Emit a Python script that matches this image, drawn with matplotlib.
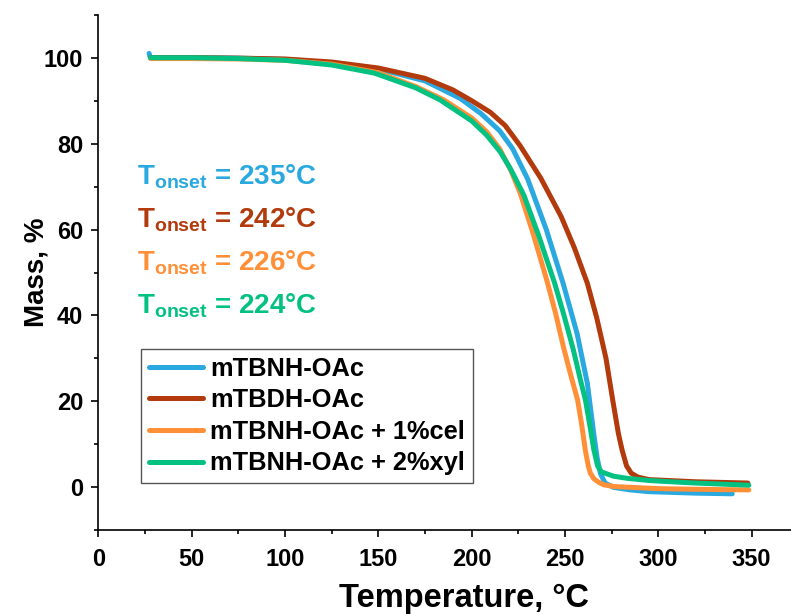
import matplotlib
matplotlib.use("Agg")
import matplotlib.pyplot as plt
from matplotlib.ticker import MultipleLocator

plt.rcParams["font.family"] = "Liberation Sans"
plt.rcParams["font.weight"] = "bold"
plt.rcParams["mathtext.fontset"] = "custom"
plt.rcParams["mathtext.rm"] = "Liberation Sans:bold"
plt.rcParams["mathtext.bf"] = "Liberation Sans:bold"

# TGA curves (temperature in °C, mass in %)
t_nh = [27.2, 27.6, 28.5, 50, 75, 100, 125, 150, 175, 194, 205, 215, 222, 230, 240, 249,
        256.5, 262, 265.4, 267.2, 269, 271.5, 276, 285, 295, 320, 339.6]
m_nh = [101.0, 100.3, 100.0, 100.0, 99.9, 99.6, 98.8, 97.4, 94.6, 90.5, 87.0, 83.0, 78.8, 71.8, 60.0, 47.5,
        35.8, 24.2, 12.6, 7.0, 3.2, 1.0, 0.0, -0.6, -1.0, -1.35, -1.5]

t_dh = [28, 50, 75, 100, 125, 150, 175, 190, 200, 210, 218, 226, 237, 248, 255, 262, 267, 272,
        275.6, 278.6, 280.6, 283, 285.5, 289, 295, 320, 348]
m_dh = [100, 100, 99.9, 99.7, 99.0, 97.6, 95.2, 92.5, 90.0, 87.3, 84.2, 79.5, 72, 63, 55.8, 47.5, 39.5, 30,
        20.3, 12.6, 8.7, 5.0, 3.3, 2.4, 1.8, 1.3, 1.0]

t_cel = [28, 50, 75, 100, 125, 150, 170, 185, 200, 208, 215, 221, 226, 233, 240.4, 245, 249.3, 253,
         256.8, 259, 260.9, 262.5, 263.6, 265.5, 268, 270.8, 276, 285, 300, 320, 348.5]
m_cel = [99.8, 99.8, 99.7, 99.4, 98.5, 96.5, 93.3, 90.2, 86.0, 82.8, 78.8, 73.8, 68.5, 59.0, 48.0, 40.5, 32.5, 26.3,
         20.3, 14.5, 8.7, 5.0, 3.3, 2.0, 1.2, 0.6, 0.2, 0.0, -0.3, -0.45, -0.6]

t_xyl = [28, 50, 75, 100, 125, 148, 170, 183, 200, 208, 215.3, 221, 228, 236, 244.5, 249.5, 254.5, 258.3,
         261, 263.5, 265.5, 267.5, 269.5, 276, 283.3, 295, 306.5, 320, 348.5]
m_xyl = [100, 100, 99.8, 99.4, 98.3, 96.4, 93.0, 90.2, 85.3, 82.0, 78.1, 74.0, 68.0, 58.5, 47.5, 40.0, 32.0, 25.0,
         20.3, 14.0, 8.7, 5.0, 3.6, 2.6, 2.1, 1.6, 1.3, 1.0, 0.5]

labels = ["mTBNH-OAc", "mTBDH-OAc", "mTBNH-OAc + 1%cel", "mTBNH-OAc + 2%xyl"]
colors = ["#29a9df", "#b23a0c", "#ff9038", "#03c181"]
onsets = [235, 242, 226, 224]

fig = plt.figure(figsize=(7.91, 6.14), dpi=100)
# the axes runs past the right edge of the figure, as in the original crop
ax = fig.add_axes([0.1243, 0.1363, 0.925, 0.8397])

series = [(t_nh, m_nh), (t_dh, m_dh), (t_cel, m_cel), (t_xyl, m_xyl)]
for (t, m), lab, c in zip(series, labels, colors):
    ax.plot(t, m, color=c, lw=3.6, label=lab, solid_capstyle="round", solid_joinstyle="round")

# onset temperature notes
for i, (c, val) in enumerate(zip(colors, onsets)):
    ax.text(20.8, 72.3 - 10 * i, r"$\mathregular{T_{onset}}$ = %d°C" % val,
            color=c, fontsize=20, fontweight="bold", va="center", ha="left")

ax.set_xlim(0, 392)
ax.set_ylim(-10, 110)
ax.xaxis.set_major_locator(MultipleLocator(50))
ax.xaxis.set_minor_locator(MultipleLocator(25))
ax.yaxis.set_major_locator(MultipleLocator(20))
ax.yaxis.set_minor_locator(MultipleLocator(10))
ax.set_yticks([0, 20, 40, 60, 80, 100])
ax.set_xticks([0, 50, 100, 150, 200, 250, 300, 350])

for s in ["top", "right"]:
    ax.spines[s].set_visible(False)
for s in ["left", "bottom"]:
    ax.spines[s].set_linewidth(1.2)

ax.tick_params(which="major", length=5, width=1.2, labelsize=17)
ax.tick_params(which="minor", length=3, width=1.2)
ax.tick_params(axis="x", which="major", pad=7.5)
ax.tick_params(axis="y", which="major", pad=6)

ax.set_xlabel("Temperature, °C", fontsize=23.5, fontweight="bold", labelpad=9)
ax.set_ylabel("Mass, %", fontsize=20, fontweight="bold", labelpad=-4)

leg = ax.legend(loc="lower left", bbox_to_anchor=(0.0583, 0.0917), borderaxespad=0,
                fontsize=18.3, handlelength=2.15, handletextpad=0.28, labelspacing=0.3,
                borderpad=0.3, fancybox=False, framealpha=1)
leg.get_frame().set_edgecolor("#555555")
leg.get_frame().set_linewidth(1.0)
for t in leg.get_texts():
    t.set_fontweight("bold")

fig.savefig("out.png", dpi=100)
